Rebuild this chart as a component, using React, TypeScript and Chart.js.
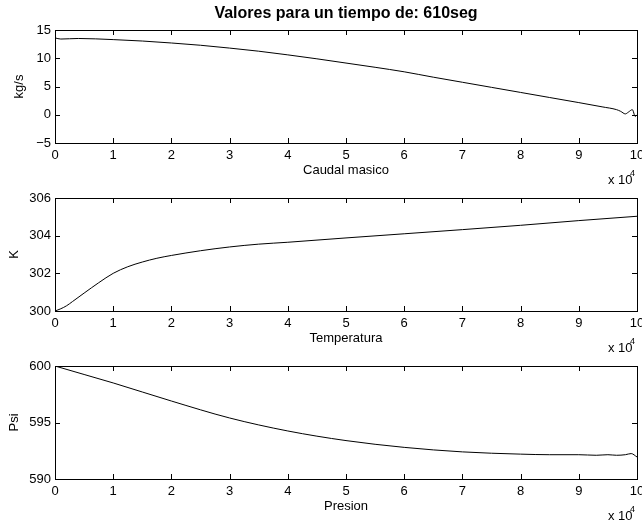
import React, { useEffect, useRef } from "react";
import { Chart, registerables } from "chart.js";

Chart.register(...registerables);

const TITLE = "Valores para un tiempo de: 610seg";
const FONT = "'Liberation Sans', Arial, Helvetica, sans-serif";

// Mass flow along the pipe (kg/s)
const flowX = [0, 1000, 4000, 10000, 15000, 20000, 25000, 30000, 35000, 40000, 45000, 50000, 55000, 60000, 65000, 70000, 75000, 80000, 85000, 90000, 94000, 96500, 97200, 98000, 98500, 99200, 99700, 100000];
const flowY = [13.6, 13.4, 13.5, 13.3, 13.05, 12.7, 12.3, 11.8, 11.25, 10.6, 9.9, 9.15, 8.4, 7.6, 6.65, 5.75, 4.85, 3.95, 3.05, 2.15, 1.4, 0.9, 0.6, 0.15, 0.45, 0.9, -0.3, 0.0];

// Temperature along the pipe (K)
const tempX = [0, 1000, 2000, 3000, 5000, 7500, 10000, 12500, 15000, 17500, 20000, 25000, 30000, 35000, 40000, 50000, 60000, 70000, 80000, 90000, 100000];
const tempY = [300.0, 300.12, 300.28, 300.5, 300.95, 301.5, 302.0, 302.35, 302.6, 302.8, 302.95, 303.2, 303.4, 303.55, 303.65, 303.88, 304.1, 304.32, 304.55, 304.8, 305.03];

// Pressure along the pipe (Psi)
const presX = [0, 5000, 10000, 20000, 30000, 40000, 50000, 60000, 70000, 80000, 85000, 90000, 93000, 95000, 96500, 98000, 99000, 100000];
const presY = [600, 599.25, 598.5, 596.9, 595.4, 594.25, 593.4, 592.8, 592.4, 592.2, 592.15, 592.15, 592.1, 592.15, 592.1, 592.15, 592.25, 591.95];

// Axis limits and tick steps
const xRange = [0, 100000];
const xStep = 10000;
const flowRange = [-5, 15];
const flowStep = 5;
const tempRange = [300, 306];
const tempStep = 2;
const presRange = [590, 600];
const presStep = 5;

const xLabels = ["Caudal masico", "Temperatura", "Presion"];
const yLabels = ["kg/s", "K", "Psi"];

const W = 660;
const H = 521;
const PLOT_LEFT = 55;
const PLOT_RIGHT = 637;
const PLOT_TOPS = [30, 198, 366];
const PLOT_H = 113;
const TICK_LEN = 5;

// Draws the boxed axes with inward ticks, axis titles and the exponent note
const framePlugin = {
  id: "frame",
  afterDraw(chart: any, _args: any, opts: any) {
    const { ctx, chartArea: a, scales } = chart;
    const xs = scales.x;
    const ys = scales.y;
    ctx.save();
    ctx.strokeStyle = "#000";
    ctx.lineWidth = 1;
    ctx.strokeRect(a.left + 0.5, a.top + 0.5, a.right - a.left, a.bottom - a.top);
    ctx.beginPath();
    for (const t of xs.ticks) {
      const px = Math.round(xs.getPixelForValue(t.value)) + 0.5;
      ctx.moveTo(px, a.bottom);
      ctx.lineTo(px, a.bottom - TICK_LEN);
      ctx.moveTo(px, a.top);
      ctx.lineTo(px, a.top + TICK_LEN);
    }
    for (const t of ys.ticks) {
      const py = Math.round(ys.getPixelForValue(t.value)) + 0.5;
      ctx.moveTo(a.left, py);
      ctx.lineTo(a.left + TICK_LEN, py);
      ctx.moveTo(a.right, py);
      ctx.lineTo(a.right - TICK_LEN, py);
    }
    ctx.stroke();

    ctx.fillStyle = "#000";
    const cx = (a.left + a.right) / 2;
    if (opts.title) {
      ctx.font = `bold 16px ${FONT}`;
      ctx.textAlign = "center";
      ctx.textBaseline = "middle";
      ctx.fillText(opts.title, cx, a.top - 16);
    }
    ctx.font = `13px ${FONT}`;
    ctx.textAlign = "center";
    ctx.textBaseline = "middle";
    ctx.fillText(opts.xTitle, cx, a.bottom + 27);

    ctx.save();
    ctx.translate(opts.yTitleX, (a.top + a.bottom) / 2);
    ctx.rotate(-Math.PI / 2);
    ctx.fillText(opts.yTitle, 0, 0);
    ctx.restore();

    ctx.textAlign = "left";
    ctx.fillText("x 10", 608, a.bottom + 37);
    ctx.font = `9px ${FONT}`;
    ctx.fillText("4", 630, a.bottom + 31);
    ctx.restore();
  },
};

function makeConfig(i: number, xs: number[], ys: number[], yr: number[], ystep: number, yTitleX: number): any {
  const top = PLOT_TOPS[i];
  const bottom = top + PLOT_H;
  return {
    type: "line",
    data: {
      datasets: [
        {
          data: xs.map((x, k) => ({ x, y: ys[k] })),
          borderColor: "#000",
          borderWidth: 1,
          pointRadius: 0,
          fill: false,
          cubicInterpolationMode: "monotone",
        },
      ],
    },
    options: {
      animation: false,
      responsive: false,
      devicePixelRatio: 1,
      events: [],
      layout: { padding: { top, left: 0, right: W - PLOT_RIGHT, bottom: 0 } },
      plugins: {
        legend: { display: false },
        tooltip: { enabled: false },
        title: { display: false },
        frame: {
          title: i === 0 ? TITLE : null,
          xTitle: xLabels[i],
          yTitle: yLabels[i],
          yTitleX,
        },
      },
      scales: {
        x: {
          type: "linear",
          min: xRange[0],
          max: xRange[1],
          grid: { display: false, drawTicks: false },
          border: { display: false },
          ticks: {
            stepSize: xStep,
            maxRotation: 0,
            autoSkip: false,
            padding: 5,
            color: "#000",
            font: { size: 13, family: FONT },
            callback: (v: number) => String(Math.round(v / 10000)),
          },
          afterFit: (s: any) => {
            s.height = H - bottom;
          },
        },
        y: {
          type: "linear",
          min: yr[0],
          max: yr[1],
          grid: { display: false, drawTicks: false },
          border: { display: false },
          ticks: {
            stepSize: ystep,
            autoSkip: false,
            padding: 4,
            color: "#000",
            font: { size: 13, family: FONT },
            callback: (v: number) => (v < 0 ? "\u2212" + Math.abs(v) : String(v)),
          },
          afterFit: (s: any) => {
            s.width = PLOT_LEFT;
          },
        },
      },
    },
    plugins: [framePlugin],
  };
}

export default function App() {
  const r1 = useRef<HTMLCanvasElement>(null);
  const r2 = useRef<HTMLCanvasElement>(null);
  const r3 = useRef<HTMLCanvasElement>(null);

  useEffect(() => {
    const charts = [
      new Chart(r1.current!, makeConfig(0, flowX, flowY, flowRange, flowStep, 19)),
      new Chart(r2.current!, makeConfig(1, tempX, tempY, tempRange, tempStep, 14)),
      new Chart(r3.current!, makeConfig(2, presX, presY, presRange, presStep, 14)),
    ];
    return () => charts.forEach((c) => c.destroy());
  }, []);

  const cs: React.CSSProperties = { position: "absolute", left: 0, top: 0, width: W, height: H };
  return (
    <div
      style={{
        position: "fixed",
        left: 0,
        top: 0,
        width: 642,
        height: 521,
        overflow: "hidden",
        background: "#fff",
      }}
    >
      <canvas ref={r1} width={W} height={H} style={cs} />
      <canvas ref={r2} width={W} height={H} style={cs} />
      <canvas ref={r3} width={W} height={H} style={cs} />
    </div>
  );
}
